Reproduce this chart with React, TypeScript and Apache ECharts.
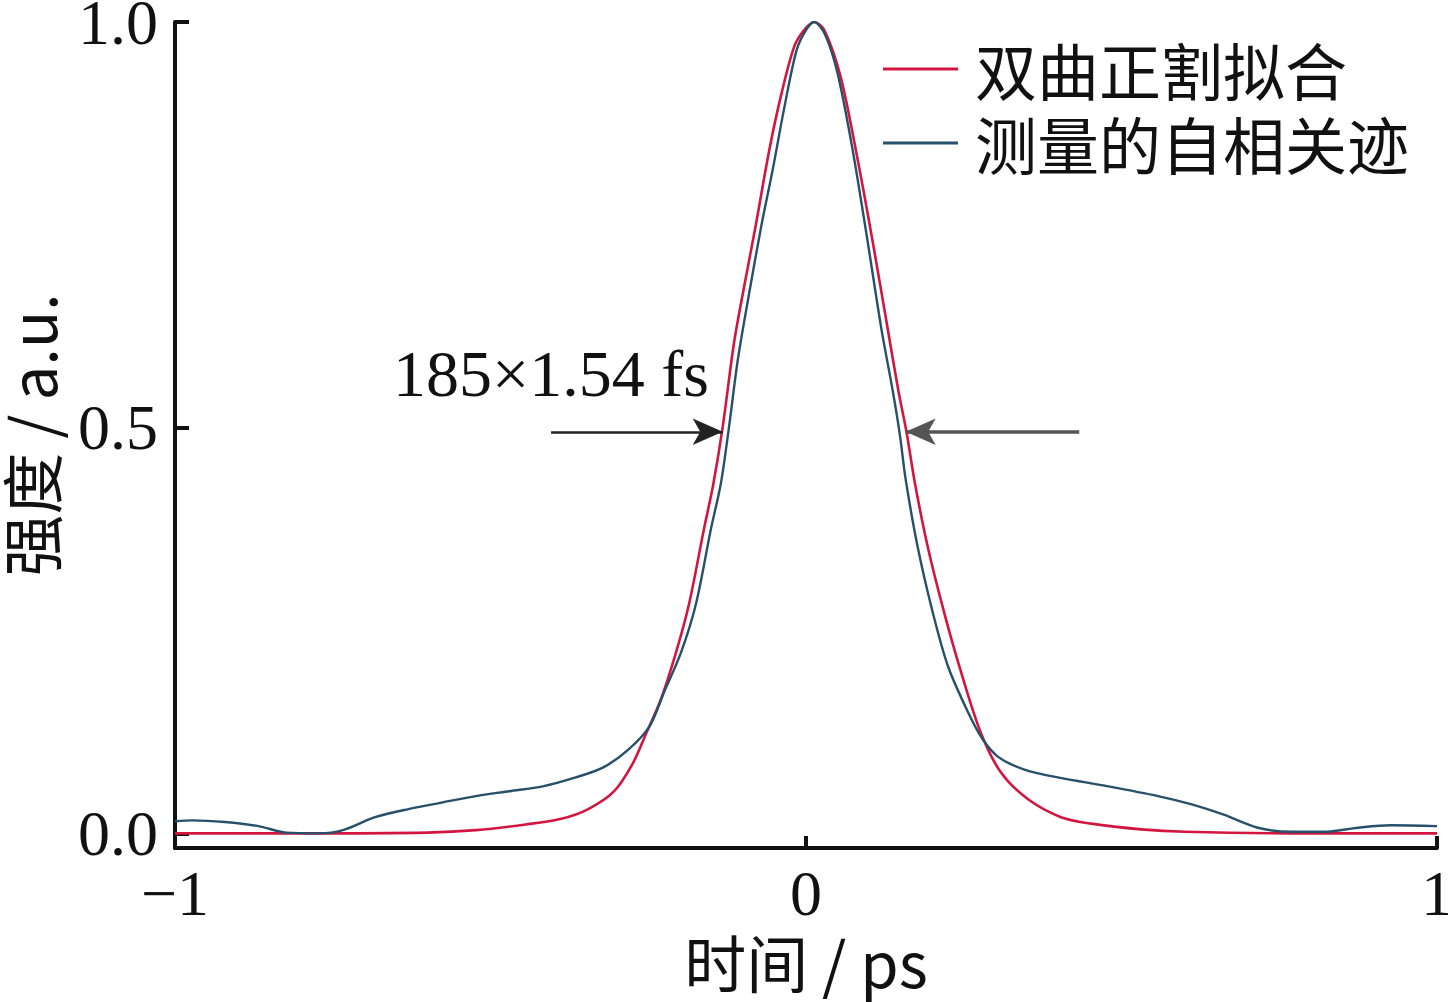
import React, { useEffect, useRef } from "react";
import * as echarts from "echarts";

// Hyperbolic-secant fit
const fitT = [-1.0, -0.8, -0.6, -0.523, -0.444, -0.388, -0.345, -0.304, -0.274, -0.254, -0.23, -0.206, -0.185, -0.162, -0.147, -0.132, -0.114, -0.098, -0.079, -0.059, -0.04, -0.019, -0.003, 0.013, 0.029, 0.055, 0.082, 0.106, 0.129, 0.147, 0.159, 0.173, 0.193, 0.219, 0.246, 0.277, 0.309, 0.352, 0.404, 0.452, 0.531, 0.6, 0.8, 1.0];
const fitI = [0.0, 0.0, 0.001, 0.004, 0.011, 0.018, 0.03, 0.052, 0.087, 0.122, 0.165, 0.223, 0.284, 0.374, 0.43, 0.501, 0.605, 0.674, 0.752, 0.839, 0.908, 0.969, 0.99, 1.0, 0.99, 0.932, 0.83, 0.728, 0.624, 0.543, 0.496, 0.43, 0.353, 0.272, 0.198, 0.124, 0.075, 0.042, 0.02, 0.012, 0.005, 0.002, 0.0, 0.0];

const measT = [-1.0, -0.973, -0.921, -0.868, -0.824, -0.772, -0.734, -0.683, -0.63, -0.577, -0.523, -0.47, -0.417, -0.365, -0.322, -0.282, -0.248, -0.225, -0.198, -0.174, -0.151, -0.135, -0.122, -0.108, -0.09, -0.071, -0.052, -0.035, -0.015, 0.0, 0.013, 0.03, 0.05, 0.074, 0.098, 0.119, 0.138, 0.149, 0.158, 0.177, 0.201, 0.225, 0.257, 0.28, 0.305, 0.345, 0.399, 0.479, 0.558, 0.61, 0.662, 0.716, 0.769, 0.821, 0.875, 0.927, 1.0];
const measI = [0.015, 0.016, 0.014, 0.009, 0.001, 0.0, 0.004, 0.02, 0.03, 0.038, 0.046, 0.052, 0.058, 0.069, 0.081, 0.103, 0.132, 0.174, 0.223, 0.284, 0.374, 0.431, 0.501, 0.584, 0.666, 0.748, 0.821, 0.892, 0.965, 0.99, 1.0, 0.985, 0.937, 0.842, 0.728, 0.624, 0.543, 0.49, 0.436, 0.353, 0.272, 0.206, 0.149, 0.116, 0.094, 0.079, 0.069, 0.058, 0.046, 0.036, 0.023, 0.007, 0.002, 0.002, 0.007, 0.01, 0.009];

const xTicks = [-1, 0, 1];
const yTicks = [0, 0.5, 1];

const fitName = "双曲正割拟合";
const measName = "测量的自相关迹";
const annotation = "185×1.54 fs";
// FWHM arrows: [tailT, tipT, level]
const leftArrow = [-0.404, -0.132, 0.495];
const rightArrow = [0.433, 0.158, 0.495];

const serif = "'Liberation Serif', 'Noto Sans CJK SC', serif";
const cjk = "'Noto Sans CJK SC', 'Liberation Serif', sans-serif";

export default function App() {
  const ref = useRef<HTMLDivElement>(null);
  useEffect(() => {
    if (!ref.current) return;
    const chart = echarts.init(ref.current, null, { renderer: "svg" });
    const fitData = fitT.map((t, i) => [t, fitI[i]]);
    const measData = measT.map((t, i) => [t, measI[i]]);
    chart.setOption({
      animation: false,
      backgroundColor: "#ffffff",
      grid: { left: 175, right: 11, top: 22, bottom: 154, containLabel: false, outerBoundsMode: "none" },
      legend: {
        orient: "vertical",
        left: 878,
        top: 33,
        itemWidth: 75,
        itemHeight: 3,
        itemGap: 12,
        icon: "rect",
        data: [fitName, measName],
        textStyle: { fontSize: 62, lineHeight: 62, fontFamily: cjk, color: "#111", padding: [0, 0, 0, 12] },
      },
      xAxis: {
        type: "value",
        min: -1,
        max: 1,
        interval: 1,
        name: "时间 / ps",
        nameLocation: "middle",
        nameGap: 78,
        nameTextStyle: { fontSize: 62, lineHeight: 62, fontFamily: cjk, color: "#111" },
        axisLine: { onZero: false, lineStyle: { color: "#111", width: 4 } },
        axisTick: { inside: true, length: 12, lineStyle: { color: "#111", width: 4 } },
        axisLabel: {
          fontSize: 64,
          lineHeight: 44,
          fontFamily: serif,
          color: "#111",
          margin: 23,
          formatter: (v: number) => (v < 0 ? "\u2212" + Math.abs(v) : String(v)),
          customValues: xTicks,
        },
        splitLine: { show: false },
      },
      yAxis: {
        type: "value",
        min: -0.018,
        max: 1.0,
        name: "强度 / a.u.",
        nameLocation: "middle",
        nameGap: 114,
        nameRotate: 90,
        nameTextStyle: { fontSize: 62, lineHeight: 62, fontFamily: cjk, color: "#111" },
        axisLine: { onZero: false, lineStyle: { color: "#111", width: 4 } },
        axisTick: { inside: true, length: 14, lineStyle: { color: "#111", width: 4 }, customValues: yTicks },
        axisLabel: {
          fontSize: 64,
          lineHeight: 40,
          fontFamily: serif,
          color: "#111",
          margin: 17,
          customValues: yTicks,
          formatter: (v: number) => v.toFixed(1),
        },
        splitLine: { show: false },
      },
      series: [
        {
          name: fitName,
          type: "line",
          data: fitData,
          smooth: 0.3,
          showSymbol: false,
          symbol: "none",
          lineStyle: { color: "#d3163f", width: 2.6 },
          itemStyle: { color: "#d3163f" },
          z: 2,
          markLine: {
            silent: true,
            symbol: ["none", "arrow"],
            symbolSize: [20, 30],
            label: { show: false },
            data: [
              [
                { coord: [leftArrow[0], leftArrow[2]], lineStyle: { color: "#222", width: 2.5, type: "solid" }, itemStyle: { color: "#111" } },
                { coord: [leftArrow[1], leftArrow[2]] },
              ],
              [
                { coord: [rightArrow[0], rightArrow[2]], lineStyle: { color: "#555", width: 3.5, type: "solid" }, itemStyle: { color: "#111" } },
                { coord: [rightArrow[1], rightArrow[2]] },
              ],
            ],
          },
        },
        {
          name: measName,
          type: "line",
          data: measData,
          smooth: 0.3,
          showSymbol: false,
          symbol: "none",
          lineStyle: { color: "#27506b", width: 2.4 },
          itemStyle: { color: "#27506b" },
          z: 3,
        },
      ],
      graphic: [
        {
          type: "text",
          left: 393,
          top: 340,
          style: { text: annotation, font: `66px ${serif}`, fill: "#111" },
        },
      ],
    });
    return () => chart.dispose();
  }, []);
  return <div ref={ref} style={{ position: "fixed", left: 0, top: 0, width: 1448, height: 1002 }} />;
}
